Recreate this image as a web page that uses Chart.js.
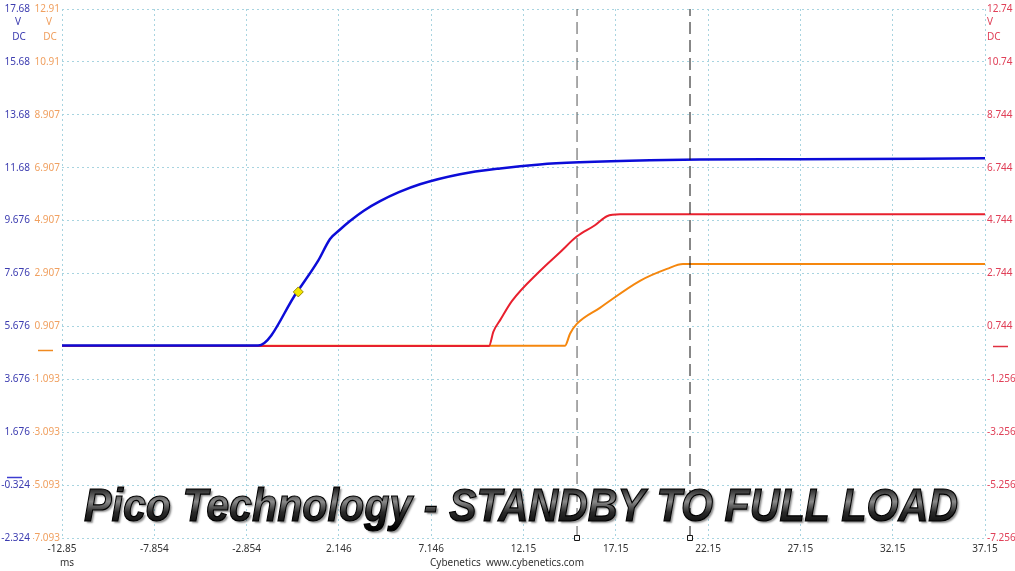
<!DOCTYPE html>
<html>
<head>
<meta charset="utf-8">
<script src="https://cdn.jsdelivr.net/npm/chart.js@4.4.1/dist/chart.umd.min.js"></script>
<style>
  html, body { margin: 0; padding: 0; background: #fff; }
  #wrap { width: 1015px; height: 571px; position: relative; }
</style>
</head>
<body>
<div id="wrap"><canvas id="scope" width="1015" height="571"></canvas></div>
<script>
// time axis (ms)
const xTicks = [-12.85, -7.85, -2.85, 2.15, 7.15, 12.15, 17.15, 22.15, 27.15, 32.15, 37.15];
const xTickLabels = ['-12.85','-7.854','-2.854','2.146','7.146','12.15','17.15','22.15','27.15','32.15','37.15'];

// channel A (blue, outer left axis)
const blueTicks = [-2.324, -0.324, 1.676, 3.676, 5.676, 7.676, 9.676, 11.676, 13.676, 15.676, 17.676];
const blueTickLabels = ['-2.324','-0.324','1.676','3.676','5.676','7.676','9.676','11.68','13.68','15.68','17.68'];
// channel B (orange, inner left axis)
const orangeTicks = [-7.093, -5.093, -3.093, -1.093, 0.907, 2.907, 4.907, 6.907, 8.907, 10.907, 12.907];
const orangeTickLabels = ['-7.093','-5.093','-3.093','-1.093','0.907','2.907','4.907','6.907','8.907','10.91','12.91'];
// channel C (red, right axis)
const redTicks = [-7.256, -5.256, -3.256, -1.256, 0.744, 2.744, 4.744, 6.744, 8.744, 10.744, 12.744];
const redTickLabels = ['-7.256','-5.256','-3.256','-1.256','0.744','2.744','4.744','6.744','8.744','10.74','12.74'];

const blueTime = [-12.85, -2.23, -0.12, 1.02, 1.67, 2.2, 2.75, 3.5, 4.38, 5.4, 6.54, 8.71, 10.88, 13.04, 15.21, 19.0, 21.71, 27.13, 37.15];
const blueVolts = [4.95, 4.95, 6.98, 8.15, 8.98, 9.33, 9.66, 10.05, 10.41, 10.75, 11.05, 11.43, 11.65, 11.80, 11.88, 11.96, 11.99, 12.0, 12.03];

const redTime = [-12.85, 10.28, 10.52, 10.90, 11.53, 13.04, 14.13, 15.05, 16.02, 16.67, 17.38, 37.15];
const redVolts = [0.0, 0.0, 0.55, 1.0, 1.71, 2.84, 3.55, 4.15, 4.57, 4.91, 4.98, 4.98];

const orangeTime = [-12.85, 14.40, 14.67, 15.05, 16.29, 18.46, 19.92, 20.79, 21.17, 37.15];
const orangeVolts = [0.18, 0.18, 0.63, 1.01, 1.61, 2.63, 3.08, 3.27, 3.27, 3.27];

const cursorTimes = [15.05, 21.17];
const triggerTime = [-0.05];
const triggerVolts = [6.98];

const footerLeft = 'ms';
const footerText = 'Cybenetics  www.cybenetics.com';
const titleText = 'Pico Technology - STANDBY TO FULL LOAD';

const FONT = '"Noto Sans", "Open Sans", sans-serif';
const gridColor = '#a8d4e0';

function pts(xs, ys){ return xs.map((x, i) => ({ x: x, y: ys[i] })); }

function fixedTicks(values){
  return scale => { scale.ticks = values.map(v => ({ value: v })); };
}

const cursorSets = cursorTimes.map((t, i) => ({
  data: [{ x: t, y: -2.324 }, { x: t, y: 17.676 }],
  yAxisID: 'yBlue',
  borderColor: i === 0 ? '#555' : '#111',
  borderWidth: 1,
  borderDash: [12, 6],
  pointStyle: 'rect',
  pointRadius: [3.5, 0],
  pointBackgroundColor: '#fff',
  pointBorderColor: '#111',
  pointBorderWidth: 1,
  clip: false,
  order: 0
}));

// units, ground markers, title and footer
const decor = {
  id: 'decor',
  afterDraw(chart){
    const ctx = chart.ctx;
    const sb = chart.scales.yBlue, so = chart.scales.yOrange, sr = chart.scales.yRed;
    ctx.save();
    ctx.font = '10px ' + FONT;
    ctx.textBaseline = 'middle';
    ctx.textAlign = 'center';
    ctx.fillStyle = '#3c3cb0';
    ctx.fillText('V', 18, 22);
    ctx.fillText('DC', 19, 37);
    ctx.fillStyle = '#f0a060';
    ctx.fillText('V', 49, 22);
    ctx.fillText('DC', 50, 37);
    ctx.textAlign = 'left';
    ctx.fillStyle = '#e04058';
    ctx.fillText('V', 987, 22);
    ctx.fillText('DC', 987, 37);

    // ground markers
    ctx.lineWidth = 1.5;
    ctx.strokeStyle = '#3c3cd0';
    let y = Math.round(sb.getPixelForValue(0)) + 0.5;
    ctx.beginPath(); ctx.moveTo(7, y); ctx.lineTo(22, y); ctx.stroke();
    ctx.strokeStyle = '#f08a20';
    y = Math.round(so.getPixelForValue(0)) + 0.5;
    ctx.beginPath(); ctx.moveTo(38, y); ctx.lineTo(53, y); ctx.stroke();
    ctx.strokeStyle = '#e03040';
    y = Math.round(sr.getPixelForValue(0)) + 0.5;
    ctx.beginPath(); ctx.moveTo(993, y); ctx.lineTo(1008, y); ctx.stroke();

    // footer
    ctx.fillStyle = '#333';
    ctx.textAlign = 'center';
    ctx.fillText(footerLeft, 67, 563);
    ctx.fillText(footerText, 507, 563);

    // big title
    ctx.font = 'italic bold 46px "Liberation Sans", Arial, sans-serif';
    ctx.textAlign = 'left';
    ctx.textBaseline = 'alphabetic';
    const w = ctx.measureText(titleText).width;
    const left = 84, right = 958;
    const sx = (right - left) / w;
    ctx.translate(left, 521);
    ctx.scale(sx, 1);
    const g = ctx.createLinearGradient(0, -34, 0, 8);
    g.addColorStop(0, '#1a1a1a');
    g.addColorStop(0.35, '#8a8a8a');
    g.addColorStop(0.6, '#2a2a2a');
    g.addColorStop(1, '#000');
    ctx.shadowColor = 'rgba(0,0,0,0.45)';
    ctx.shadowOffsetX = 2;
    ctx.shadowOffsetY = 2;
    ctx.shadowBlur = 2;
    ctx.fillStyle = g;
    ctx.fillText(titleText, 0, 0);
    ctx.shadowColor = 'transparent';
    ctx.lineWidth = 1.2;
    ctx.strokeStyle = '#000';
    ctx.strokeText(titleText, 0, 0);
    ctx.restore();
  }
};

const chart = new Chart(document.getElementById('scope'), {
  type: 'line',
  data: {
    datasets: [
      ...cursorSets,
      {
        data: pts(triggerTime, triggerVolts),
        yAxisID: 'yBlue',
        showLine: false,
        pointStyle: 'rectRot',
        pointRadius: 5,
        pointBackgroundColor: '#f2e600',
        pointBorderColor: '#9a8a00',
        pointBorderWidth: 1,
        order: 1
      },
      {
        data: pts(blueTime, blueVolts),
        yAxisID: 'yBlue',
        borderColor: '#0c0cd8',
        borderWidth: 2.5,
        pointRadius: 0,
        cubicInterpolationMode: 'monotone',
        order: 2
      },
      {
        data: pts(redTime, redVolts),
        yAxisID: 'yRed',
        borderColor: '#e8202e',
        borderWidth: 2,
        pointRadius: 0,
        cubicInterpolationMode: 'monotone',
        order: 3
      },
      {
        data: pts(orangeTime, orangeVolts),
        yAxisID: 'yOrange',
        borderColor: '#f5870e',
        borderWidth: 2,
        pointRadius: 0,
        cubicInterpolationMode: 'monotone',
        order: 4
      }
    ]
  },
  options: {
    responsive: false,
    animation: false,
    devicePixelRatio: 1,
    layout: { padding: { top: 1, right: 0, left: 0, bottom: 0 } },
    plugins: { legend: { display: false }, tooltip: { enabled: false } },
    scales: {
      x: {
        type: 'linear',
        min: -12.85, max: 37.15,
        afterBuildTicks: fixedTicks(xTicks),
        afterFit: s => { s.height = 33; },
        border: { display: false, dash: [2, 3] },
        grid: { color: gridColor, lineWidth: 1, drawTicks: false },
        ticks: {
          padding: 5,
          autoSkip: false,
          color: '#333',
          font: { size: 10, family: FONT },
          maxRotation: 0,
          callback: (v, i) => xTickLabels[i]
        }
      },
      yBlue: {
        type: 'linear', position: 'left', weight: 1,
        min: -2.324, max: 17.676,
        afterBuildTicks: fixedTicks(blueTicks),
        afterFit: s => { s.width = 33; },
        border: { display: false, dash: [2, 3] },
        grid: { color: gridColor, lineWidth: 1, drawTicks: false },
        ticks: { padding: 3, autoSkip: false, color: '#3c3cb0', font: { size: 10, family: FONT }, callback: (v, i) => blueTickLabels[i] }
      },
      yOrange: {
        type: 'linear', position: 'left', weight: 0,
        min: -7.093, max: 12.907,
        afterBuildTicks: fixedTicks(orangeTicks),
        afterFit: s => { s.width = 29; },
        border: { display: false },
        grid: { display: false, drawTicks: false },
        ticks: { padding: 2, autoSkip: false, color: '#f0a060', font: { size: 10, family: FONT }, callback: (v, i) => orangeTickLabels[i] }
      },
      yRed: {
        type: 'linear', position: 'right',
        min: -7.256, max: 12.744,
        afterBuildTicks: fixedTicks(redTicks),
        afterFit: s => { s.width = 30; },
        border: { display: false },
        grid: { display: false, drawTicks: false },
        ticks: { padding: 2, autoSkip: false, color: '#e04058', font: { size: 10, family: FONT }, callback: (v, i) => redTickLabels[i] }
      }
    }
  },
  plugins: [decor]
});
</script>
</body>
</html>
